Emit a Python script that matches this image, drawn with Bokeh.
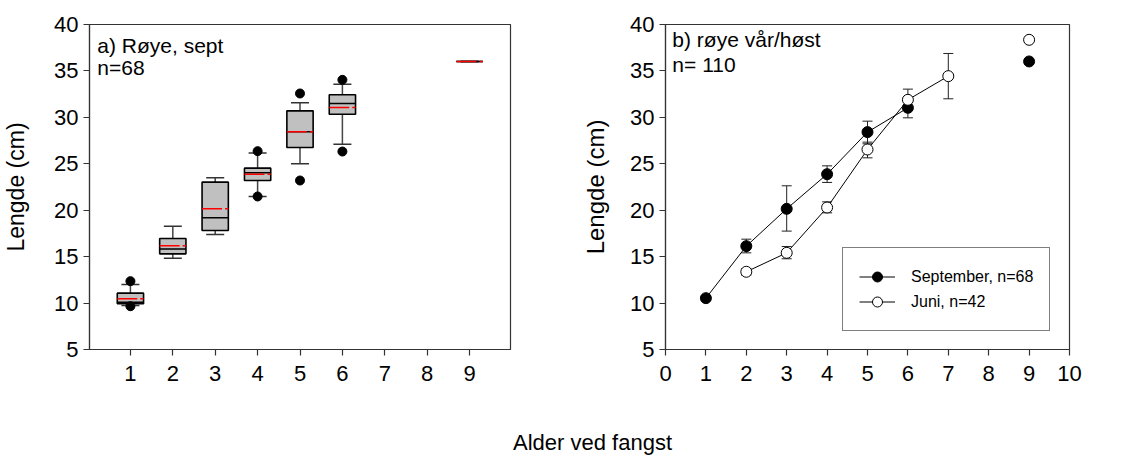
import math
from bokeh.plotting import figure
from bokeh.layouts import column, row
from bokeh.models import (ColumnDataSource, Whisker, TeeHead, Legend, LegendItem,
                          FixedTicker, Range1d)
from bokeh.core.properties import value
from bokeh.embed import file_html
from bokeh.resources import INLINE

FONT = "Liberation Sans"
NAN = float("nan")

# ---------------- data: panel a (box plot) ----------------
box_ages = [1, 2, 3, 4, 5, 6, 9]
box_whisk_lo = [9.75, 14.84, 17.39, 21.48, 25.0, 27.11, 36.02]
box_q1 = [9.92, 15.30, 17.82, 23.20, 26.76, 30.34, 36.02]
box_median = [10.10, 15.81, 19.18, 24.03, 28.44, 31.49, 36.02]
box_mean = [10.46, 16.17, 20.15, 23.88, 28.44, 31.06, 36.02]
box_q3 = [11.07, 16.96, 23.02, 24.53, 30.70, 32.43, 36.02]
box_whisk_hi = [12.00, 18.28, 23.49, 26.15, 31.57, 33.57, 36.02]
outlier_ages = [1, 1, 4, 4, 5, 5, 6, 6]
outlier_vals = [12.36, 9.66, 26.36, 21.48, 32.57, 23.20, 34.04, 26.32]

# ---------------- data: panel b (means with error bars) ----------------
ages = [1, 2, 3, 4, 5, 6, 7, 8, 9]
sept_mean = [10.53, 16.13, 20.15, 23.88, 28.41, 31.03, NAN, NAN, 36.02]
sept_lo = [10.30, 15.41, 17.75, 22.99, 27.15, 29.95, NAN, NAN, NAN]
sept_hi = [10.80, 16.88, 22.63, 24.78, 29.59, 32.10, NAN, NAN, NAN]
juni_mean = [NAN, 13.37, 15.41, 20.29, 26.54, 31.89, 34.44, NAN, 38.35]
juni_lo = [NAN, 13.00, 14.77, 19.72, 25.64, 30.80, 32.00, NAN, NAN]
juni_hi = [NAN, 13.70, 16.09, 20.90, 27.33, 33.04, 36.88, NAN, NAN]

y_ticks = [5, 10, 15, 20, 25, 30, 35, 40]
xa_ticks = [1, 2, 3, 4, 5, 6, 7, 8, 9]
xb_ticks = [0, 1, 2, 3, 4, 5, 6, 7, 8, 9, 10]

BOX_W = 0.62
CAP_PX = 18
TICK_FS = "22px"
AXIS_COL = "#333333"


def style(p, xticks, label_fs, label_standoff):
    p.outline_line_color = AXIS_COL
    p.outline_line_width = 1.2
    p.xgrid.visible = False
    p.ygrid.visible = False
    for ax in (p.xaxis[0], p.yaxis[0]):
        ax.axis_line_color = AXIS_COL
        ax.axis_line_width = 1.2
        ax.major_tick_line_color = AXIS_COL
        ax.major_tick_line_width = 1.2
        ax.major_tick_out = 6
        ax.major_tick_in = 0
        ax.minor_tick_line_color = None
        ax.major_label_text_font = FONT
        ax.major_label_text_font_size = TICK_FS
        ax.major_label_text_color = "black"
    p.xaxis[0].ticker = FixedTicker(ticks=xticks)
    p.yaxis[0].ticker = FixedTicker(ticks=y_ticks)
    p.xaxis[0].major_label_standoff = 10
    p.yaxis[0].major_label_standoff = 5
    p.yaxis[0].axis_label = "Lengde (cm)"
    p.yaxis[0].axis_label_text_font = FONT
    p.yaxis[0].axis_label_text_font_size = label_fs
    p.yaxis[0].axis_label_text_font_style = "normal"
    p.yaxis[0].axis_label_text_color = "black"
    p.yaxis[0].axis_label_standoff = label_standoff


# ---------------- panel a ----------------
pa = figure(width=560, height=400, output_backend="svg", toolbar_location=None,
            x_range=Range1d(0.035, 9.965), y_range=Range1d(5, 40),
            min_border_left=88, min_border_right=50, min_border_top=24,
            min_border_bottom=51)
style(pa, xa_ticks, "23px", 22)

src_box = ColumnDataSource(dict(
    x=box_ages, lo=box_whisk_lo, q1=box_q1, med=box_median, mean=box_mean,
    q3=box_q3, hi=box_whisk_hi,
    x0=[a - BOX_W / 2 for a in box_ages], x1=[a + BOX_W / 2 for a in box_ages]))

wk = Whisker(source=src_box, base="x", lower="lo", upper="hi", dimension="height",
             line_color="#444444", line_width=1.5, level="underlay",
             upper_head=TeeHead(size=CAP_PX, line_color="#333333", line_width=1.5),
             lower_head=TeeHead(size=CAP_PX, line_color="#333333", line_width=1.5))
pa.add_layout(wk)
pa.vbar(x="x", width=BOX_W, bottom="q1", top="q3", source=src_box,
        fill_color="#c0c0c0", line_color="black", line_width=1.6)
pa.segment(x0="x0", x1="x1", y0="med", y1="med", source=src_box,
           line_color="black", line_width=1.5)
pa.segment(x0="x0", x1="x1", y0="mean", y1="mean", source=src_box,
           line_color="#ff0000", line_width=1.5, line_dash="20 3")
pa.scatter(x=outlier_ages, y=outlier_vals, size=9, marker="circle",
           fill_color="black", line_color="black")

pa.text(x=[0.22], y=[37.74], text=["a) Røye, sept"], text_font=value(FONT),
        text_font_size="21px", text_baseline="alphabetic", text_color="black")
pa.text(x=[0.22], y=[35.37], text=["n=68"], text_font=value(FONT),
        text_font_size="21px", text_baseline="alphabetic", text_color="black")

# ---------------- panel b ----------------
pb = figure(width=584, height=400, output_backend="svg", toolbar_location=None,
            x_range=Range1d(0, 10), y_range=Range1d(5, 40),
            min_border_left=105, min_border_right=75, min_border_top=24,
            min_border_bottom=51)
style(pb, xb_ticks, "24px", 18)

src_s = ColumnDataSource(dict(x=ages, y=sept_mean, lo=sept_lo, hi=sept_hi))
src_j = ColumnDataSource(dict(x=ages, y=juni_mean, lo=juni_lo, hi=juni_hi))

for src in (src_s, src_j):
    pb.add_layout(Whisker(source=src, base="x", lower="lo", upper="hi",
                          dimension="height", line_color="#222222", line_width=1,
                          level="underlay",
                          upper_head=TeeHead(size=10, line_color="#222222", line_width=1),
                          lower_head=TeeHead(size=10, line_color="#222222", line_width=1)))

ls = pb.line(x="x", y="y", source=src_s, line_color="black", line_width=1)
lj = pb.line(x="x", y="y", source=src_j, line_color="black", line_width=1)
ms = pb.scatter(x="x", y="y", source=src_s, marker="circle", size=11,
                fill_color="black", line_color="black", line_width=1)
mj = pb.scatter(x="x", y="y", source=src_j, marker="circle", size=11,
                fill_color="white", line_color="black", line_width=1)

pb.text(x=[0.17], y=[38.38], text=["b) røye vår/høst"], text_font=value(FONT),
        text_font_size="21px", text_baseline="alphabetic", text_color="black")
pb.text(x=[0.17], y=[35.69], text=["n= 110"], text_font=value(FONT),
        text_font_size="21px", text_baseline="alphabetic", text_color="black")

legend = Legend(items=[LegendItem(label="September, n=68", renderers=[ls, ms]),
                       LegendItem(label="Juni, n=42", renderers=[lj, mj])],
                location=(177, 18), margin=0, padding=16, spacing=0,
                glyph_width=36, glyph_height=25, label_height=25,
                label_standoff=16, label_text_font=FONT, label_text_font_size="16px",
                label_text_color="black",
                border_line_color="black", border_line_width=1,
                background_fill_alpha=1)
pb.add_layout(legend, "center")

# ---------------- shared x label ----------------
pc = figure(width=1144, height=56, output_backend="svg", toolbar_location=None,
            x_range=Range1d(0, 1144), y_range=Range1d(0, 56),
            min_border=0, outline_line_color=None)
pc.axis.visible = False
pc.grid.visible = False
pc.text(x=[592], y=[14], text=["Alder ved fangst"], text_font=value(FONT),
        text_font_size="22px", text_align="center", text_baseline="alphabetic",
        text_color="black")

layout = column(row(pa, pb), pc)
open("out.html", "w").write(file_html(layout, INLINE))
